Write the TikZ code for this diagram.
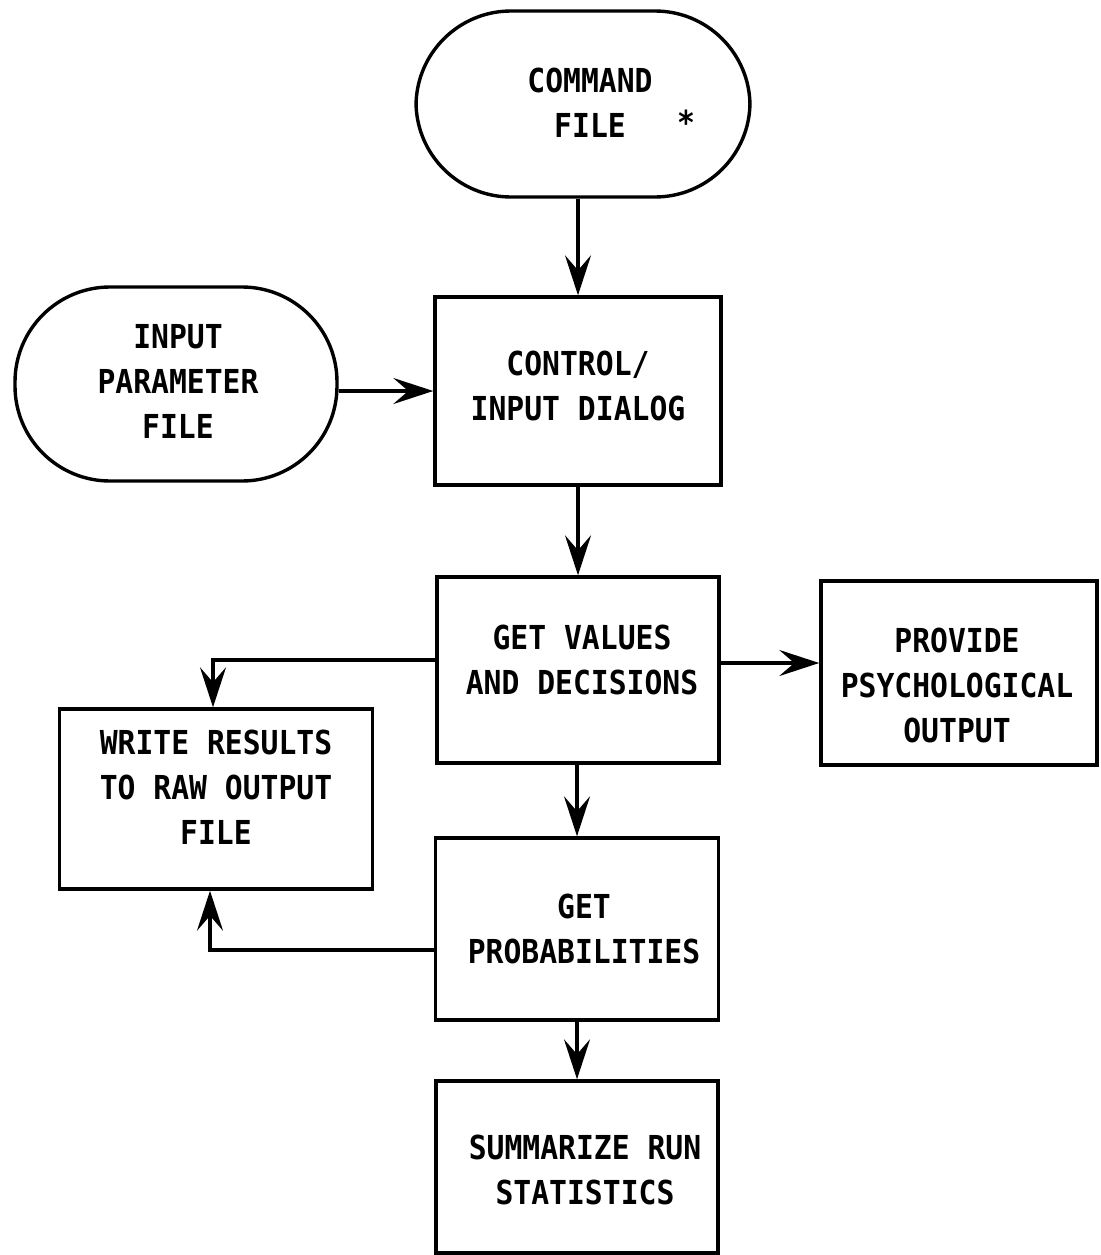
\documentclass[tikz,border=0pt]{standalone}
\usepackage{fontspec}
\setmainfont[FakeStretch=0.9]{DejaVu Sans Mono}
\usetikzlibrary{arrows.meta}
\begin{document}
\begin{tikzpicture}[x=1pt,y=-1pt,
  every node/.style={font=\fontsize{33}{45}\selectfont\bfseries, align=center, inner sep=0pt},
  procbox/.style={draw, line width=3.4pt, rectangle},
  termbox/.style={draw, line width=3.4pt, rectangle, rounded corners=95pt},
  arr/.style={line width=3.4pt, -{Stealth[length=40pt,width=26pt,inset=15pt]}}]
\useasboundingbox (0,0) rectangle (1100,1255);
\node[termbox, minimum width=334pt, minimum height=186pt] (command) at (583,104) {};
\node (commandT) at (590,103) {COMMAND\\FILE};
\node (star) at (686,122) {*};
\node[termbox, minimum width=322pt, minimum height=194pt] (input) at (176,384) {};
\node (inputT) at (178,381) {INPUT\\PARAMETER\\FILE};
\node[procbox, minimum width=286pt, minimum height=188pt] (control) at (578,391) {};
\node (controlT) at (578,386) {CONTROL/\\INPUT DIALOG};
\node[procbox, minimum width=282pt, minimum height=186pt] (values) at (578,670) {};
\node (valuesT) at (582,660) {GET VALUES\\AND DECISIONS};
\node[procbox, minimum width=276pt, minimum height=184pt] (provide) at (959,673) {};
\node (provideT) at (957,685) {PROVIDE\\PSYCHOLOGICAL\\OUTPUT};
\node[procbox, minimum width=313pt, minimum height=180pt] (write) at (216,799) {};
\node (writeT) at (216,787) {WRITE RESULTS\\TO RAW OUTPUT\\FILE};
\node[procbox, minimum width=283pt, minimum height=182pt] (prob) at (577,929) {};
\node (probT) at (584,929) {GET\\PROBABILITIES};
\node[procbox, minimum width=282pt, minimum height=172pt] (summ) at (577,1167) {};
\node (summT) at (585,1170) {SUMMARIZE RUN\\STATISTICS};

\draw[arr] (control.north |- command.south) -- (control.north);
\draw[arr] (input.east |- control.west) -- (control.west);
\draw[arr] (control.south) -- (values.north);
\draw[arr] ([yshift=7pt]values.east) -- ([yshift=7pt]values.east -| provide.west);
\draw[arr] ([yshift=10pt]values.west) -| ([xshift=-3pt]write.north);
\draw[arr] (prob.north |- values.south) -- (prob.north);
\draw[arr] ([yshift=-21pt]prob.west) -| ([xshift=-6pt]write.south);
\draw[arr] (summ.north |- prob.south) -- (summ.north);
\end{tikzpicture}
\end{document}
